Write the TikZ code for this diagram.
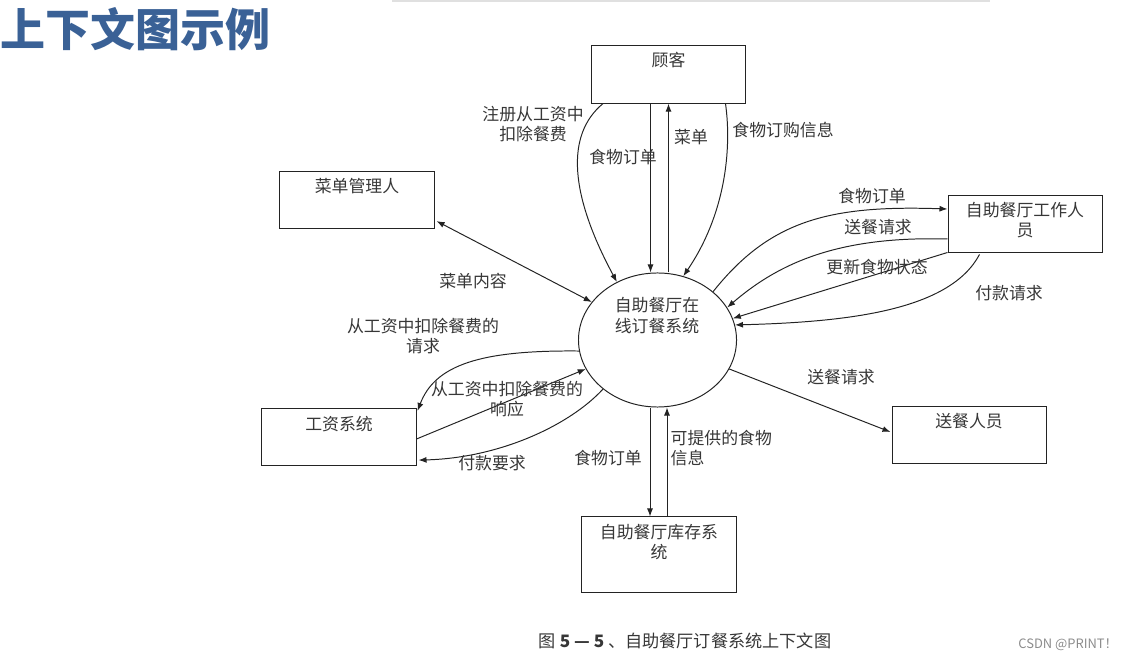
\documentclass[tikz,border=0pt]{standalone}
\usepackage{fontspec}
\setmainfont{Noto Sans CJK SC}
\usetikzlibrary{shapes.geometric,arrows.meta,calc}
\definecolor{biaotilan}{RGB}{58,97,150}
\definecolor{wenzihui}{RGB}{55,55,55}
\definecolor{xianhui}{RGB}{35,35,35}

\begin{document}
\begin{tikzpicture}[x=0.025cm,y=-0.025cm,>={Latex[length=2mm,width=1.5mm]},
	kuang/.style={draw=xianhui,line width=0.7pt,minimum width=3.85cm,minimum height=1.43cm,inner sep=0pt},
	wenzi/.style={font=\fontsize{12}{14.5}\selectfont,text=wenzihui,align=center,inner sep=1pt},
	jiantou/.style={->,draw=xianhui,line width=0.7pt}]
	
	%----------------------
	% 画布与标题
	%----------------------
	\useasboundingbox (0,0) rectangle (1130,661);
	\draw[black!12,line width=1pt] (392,1)--(990,1);
	\node[anchor=west,inner sep=0pt,text=biaotilan,font=\fontsize{32}{34}\selectfont\bfseries] (biaoti) at (0,29) {上下文图示例};
	
	%----------------------
	% 中心系统
	%----------------------
	\node[ellipse,draw=xianhui,line width=0.7pt,minimum width=3.95cm,minimum height=3.35cm,inner sep=0pt] (xitong) at (657.5,340) {};
	\node[wenzi] (xitongT) at (657,315.5) {自助餐厅在\\线订餐系统};
	
	%----------------------
	% 外部实体
	%----------------------
	\node[kuang] (guke) at (668.5,74.5) {};
	\node[wenzi] (gukeT) at ($(guke.north)+(0,15)$) {顾客};
	
	\node[kuang] (caidan) at (357,200) {};
	\node[wenzi] (caidanT) at ($(caidan.north)+(0,15)$) {菜单管理人};
	
	\node[kuang,minimum height=1.4cm] (gongzuo) at (1025,224) {};
	\node[wenzi] (gongzuoT) at ($(gongzuo.north)+(0,24.5)$) {自助餐厅工作人\\员};
	
	\node[kuang] (songcan) at (969,435) {};
	\node[wenzi] (songcanT) at ($(songcan.north)+(0,15)$) {送餐人员};
	
	\node[kuang] (gongzi) at (339,437) {};
	\node[wenzi] (gongziT) at ($(gongzi.north)+(0,16)$) {工资系统};
	
	\node[kuang,minimum height=1.875cm] (kucun) at (659,554.5) {};
	\node[wenzi] (kucunT) at ($(kucun.north)+(0,25.5)$) {自助餐厅库存系\\统};
	
	%----------------------
	% 顾客 <-> 系统
	%----------------------
	\draw[jiantou] ($(guke.south west)+(12,0)$) .. controls (565,135) and (570,195) .. (xitong.125);
	\coordinate (g1) at ($(guke.south)+(-18,0)$);
	\draw[jiantou] (g1) -- (g1 |- xitong.north);
	\coordinate (g2) at (guke.south);
	\draw[jiantou] (g2 |- xitong.north) -- (g2);
	\draw[jiantou] ($(guke.south)+(57,0)$) .. controls (732,150) and (725,215) .. (xitong.68);
	\node[wenzi] (zhuce) at (533,124) {注册从工资中\\扣除餐费};
	\node[wenzi] (dingdan1) at (623,157) {食物订单};
	\node[wenzi] (caidanL) at (691,137) {菜单};
	\node[wenzi] (dinggou) at (783,130) {食物订购信息};
	
	%----------------------
	% 菜单管理人、工资系统
	%----------------------
	\draw[jiantou,<->] ($(caidan.south east)+(2,-8)$) -- (xitong.150);
	\node[wenzi] (neirong) at (473,281) {菜单内容};
	
	\draw[jiantou] (xitong.188) .. controls (480,350) and (435,365) .. ($(gongzi.north east)+(1,3)$);
	\draw[jiantou] ($(gongzi.east)+(0,2)$) -- (xitong.202);
	\draw[jiantou] (xitong.222) .. controls (570,425) and (500,458) .. ($(gongzi.south east)+(2,-6)$);
	\node[wenzi] (qingqiu) at (423,336) {从工资中扣除餐费的\\请求};
	\node[wenzi] (xiangying) at (507,399) {从工资中扣除餐费的\\响应};
	\node[wenzi] (fukuanyq) at (492,463) {付款要求};
	
	%----------------------
	% 自助餐厅工作人员
	%----------------------
	\draw[jiantou] (xitong.41) .. controls (770,220) and (830,205) .. ($(gongzuo.west)+(0,-15)$);
	\draw[jiantou] ($(gongzuo.west)+(0,15)$) .. controls (840,236) and (780,262) .. (xitong.25);
	\draw[jiantou] (gongzuo.south west) -- (xitong.16);
	\draw[jiantou] ($(gongzuo.south west)+(32,2)$) .. controls (950,310) and (850,322) .. (xitong.11);
	\node[wenzi] (dingdan2) at (872,196) {食物订单};
	\node[wenzi] (songcan1) at (878,227) {送餐请求};
	\node[wenzi] (gengxin) at (877,267) {更新食物状态};
	\node[wenzi] (fukuanqq) at (1009,293) {付款请求};
	
	%----------------------
	% 送餐人员、库存系统
	%----------------------
	\draw[jiantou] (xitong.338) -- ($(songcan.west)+(-1,-3)$);
	\node[wenzi] (songcan2) at (841,377) {送餐请求};
	
	\coordinate (k1) at ($(kucun.north)+(-9,0)$);
	\draw[jiantou] (k1 |- xitong.south) -- (k1);
	\coordinate (k2) at ($(kucun.north)+(8,0)$);
	\draw[jiantou] (k2) -- (k2 |- xitong.south);
	\node[wenzi] (dingdan3) at (608,458) {食物订单};
	\node[wenzi,anchor=west,align=left] (tigong) at (669,448) {可提供的食物\\信息};
	
	%----------------------
	% 图注
	%----------------------
	\node[text=wenzihui,font=\fontsize{12.2}{14}\selectfont] (tuzhu) at (685,641) {图 \textbf{5 — 5} 、自助餐厅订餐系统上下文图};
	\node[text=black!45,font=\fontsize{9.2}{11}\selectfont] (shuiyin) at (1068,645) {CSDN @PRINT！};
	
\end{tikzpicture}
\end{document}
